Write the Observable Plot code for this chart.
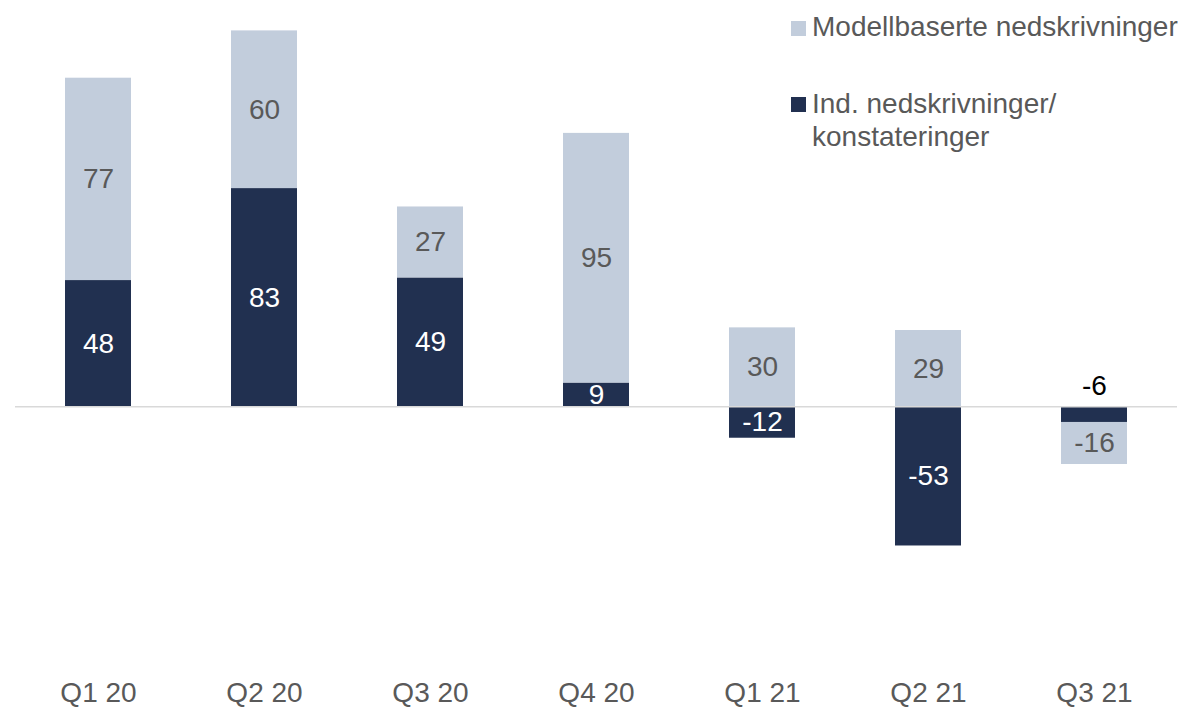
<!DOCTYPE html>
<html>
<head>
<meta charset="utf-8">
<script src="https://cdn.jsdelivr.net/npm/d3@7"></script>
<script src="https://cdn.jsdelivr.net/npm/@observablehq/plot@0.6"></script>
<style>
  html, body { margin: 0; padding: 0; background: #fff; }
  #wrap { position: relative; width: 1182px; height: 707px; font-family: "Liberation Sans", Arial, sans-serif; }
  .leg { position: absolute; left: 791px; font-size: 28px; line-height: 33px; color: #595959; }
  .sw { position: absolute; width: 15px; height: 15px; }
  .lt { position: absolute; left: 21px; white-space: nowrap; }
</style>
</head>
<body>
<div id="wrap"></div>
<script>
const quarters = ["Q1 20", "Q2 20", "Q3 20", "Q4 20", "Q1 21", "Q2 21", "Q3 21"];
const indValues = [48, 83, 49, 9, -12, -53, -6];
const modellValues = [77, 60, 27, 95, 30, 29, -16];
const seriesNames = ["Ind. nedskrivninger/ konstateringer", "Modellbaserte nedskrivninger"];
const legendLines = [["Modellbaserte nedskrivninger"], ["Ind. nedskrivninger/", "konstateringer"]];

const dark = "#213050";
const light = "#c2cddc";

const rows = [];
quarters.forEach((q, i) => {
  rows.push({quarter: q, series: seriesNames[0], value: indValues[i]});
  rows.push({quarter: q, series: seriesNames[1], value: modellValues[i]});
});
const smallRows = rows.filter(d => d.series === seriesNames[0] && Math.abs(d.value) < 8);

const chart = Plot.plot({
  width: 1182,
  height: 707,
  marginLeft: 15,
  marginRight: 5,
  marginTop: 12,
  marginBottom: 38,
  style: {fontFamily: "'Liberation Sans', Arial, sans-serif", fontSize: "28px", color: "#595959", background: "white"},
  x: {domain: quarters, paddingInner: 0.6, paddingOuter: 0.3, label: null, tickSize: 0, tickPadding: 13},
  y: {domain: [-100, 150], axis: null},
  color: {domain: seriesNames, range: [dark, light]},
  marks: [
    Plot.barY(rows, {x: "quarter", y: "value", fill: "series"}),
    Plot.ruleY([0], {stroke: "#d9d9d9", strokeWidth: 1.5}),
    Plot.text(rows, Plot.stackY({
      x: "quarter", y: "value", z: "series",
      text: d => (d.series === seriesNames[0] && Math.abs(d.value) >= 8) ? String(d.value) : "",
      fill: "white", fontSize: 28
    })),
    Plot.text(rows, Plot.stackY({
      x: "quarter", y: "value", z: "series",
      text: d => d.series === seriesNames[1] ? String(d.value) : "",
      fill: "#595959", fontSize: 28
    })),
    Plot.text(smallRows, {x: "quarter", y: 0, dy: -21, text: d => String(d.value), fill: "#000", fontSize: 28})
  ]
});

const wrap = document.getElementById("wrap");
wrap.appendChild(chart);

const legTops = [10, 87];
const swTops = [11, 10];
legendLines.forEach((lines, i) => {
  const div = document.createElement("div");
  div.className = "leg";
  div.style.top = legTops[i] + "px";
  const sw = document.createElement("div");
  sw.className = "sw";
  sw.style.top = swTops[i] + "px";
  sw.style.background = i === 0 ? light : dark;
  div.appendChild(sw);
  const t = document.createElement("div");
  t.className = "lt";
  t.innerHTML = lines.join("<br>");
  div.appendChild(t);
  wrap.appendChild(div);
});
</script>
</body>
</html>
